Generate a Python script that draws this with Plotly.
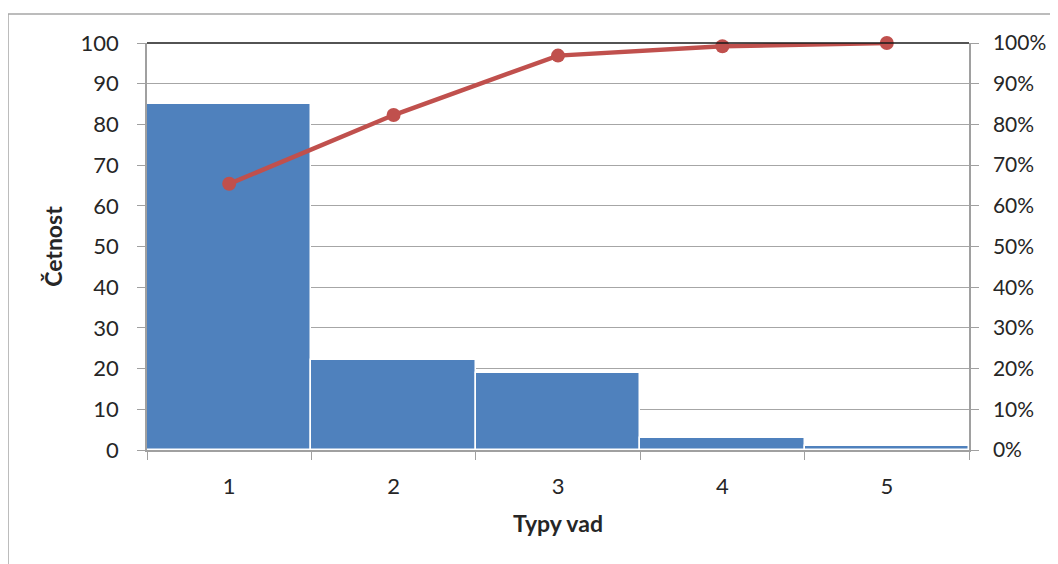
import plotly.graph_objects as go

categories = ["1", "2", "3", "4", "5"]
counts = [85, 22, 19, 3, 1]
cum_pct = [0.654, 0.823, 0.969, 0.992, 1.0]

OFF = 8  # default page body margin
W, H = 1058 - OFF, 564 - OFF
L, R, T, B = 147 - OFF, 969 - OFF, 43 - OFF, 450 - OFF

fig = go.Figure()
fig.add_trace(go.Bar(x=categories, y=counts, marker=dict(color="#4F81BD", line=dict(color="white", width=1.5)),
                     width=1.0, showlegend=False))
fig.add_trace(go.Scatter(x=categories, y=cum_pct, yaxis="y2", mode="lines+markers",
                         line=dict(color="#C0504D", width=4.5),
                         marker=dict(color="#C0504D", size=14),
                         cliponaxis=False, showlegend=False))

font = dict(family="Lato, 'Open Sans', sans-serif", size=22, color="#262626")
fig.update_layout(
    width=W, height=H,
    margin=dict(l=L, r=W - R, t=T, b=H - B, autoexpand=False),
    paper_bgcolor="white", plot_bgcolor="white",
    font=font,
    bargap=0,
    xaxis=dict(type="category", tickson="boundaries", ticks="outside", ticklen=8, tickcolor="#A0A0A0",
               showline=True, linecolor="#A0A0A0", linewidth=1.5, showgrid=False,
               range=[-0.5, 4.5], ticklabelstandoff=16,
               title=dict(text="<b>Typy vad</b>", font=dict(size=23), standoff=18),
               tickfont=dict(size=22)),
    yaxis=dict(range=[0, 100], dtick=10, ticks="outside", ticklen=8, tickcolor="#A0A0A0",
               showline=True, linecolor="#A0A0A0", linewidth=1.5, showgrid=True, gridcolor="#A6A6A6",
               gridwidth=1.2, zeroline=False, ticklabelstandoff=14,
               title=dict(text="<b>Četnost</b>", font=dict(size=23), standoff=12)),
    yaxis2=dict(overlaying="y", side="right", range=[0, 1], dtick=0.1, tickformat=".0%",
                ticks="outside", ticklen=8, tickcolor="#A0A0A0", ticklabelstandoff=10,
                tickfont=dict(size=21),
                showline=True, linecolor="#A0A0A0", linewidth=1.5, showgrid=False, zeroline=False),
)

# top border of plot area
fig.add_shape(type="line", xref="paper", yref="paper", x0=0, x1=1, y0=1, y1=1,
              line=dict(color="#1a1a1a", width=1.5))
# outer chart frame (cropped: only left and top visible)
pw, ph = R - L, B - T
fig.add_shape(type="rect", xref="paper", yref="paper",
              x0=(0 - L) / pw, x1=(W + 10 - L) / pw,
              y0=(B - (H + 10)) / ph, y1=(B - 6) / ph,
              line=dict(color="#A6A6A6", width=1.5), layer="below")

fig.write_html("out.html")
